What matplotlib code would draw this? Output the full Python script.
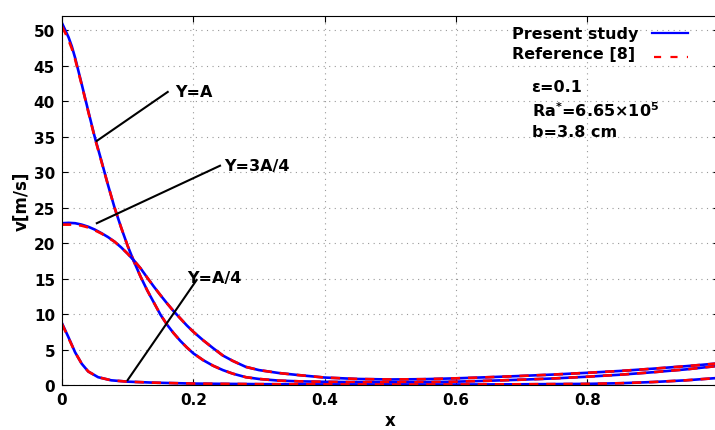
import numpy as np
import matplotlib
matplotlib.use('Agg')
import matplotlib.pyplot as plt

plt.rcParams['font.family'] = ['DejaVu Sans']
plt.rcParams['font.weight'] = 'bold'
plt.rcParams['axes.labelweight'] = 'bold'
plt.rcParams['mathtext.default'] = 'bf'

# Y = A
xa = [0, 0.005, 0.01, 0.015, 0.02, 0.03, 0.04, 0.05, 0.06, 0.07, 0.08, 0.09, 0.1, 0.11,
      0.12, 0.13, 0.14, 0.15, 0.16, 0.17, 0.18, 0.19, 0.2, 0.215, 0.23, 0.245, 0.26, 0.28,
      0.3, 0.33, 0.36, 0.4, 0.45, 0.5, 0.55, 0.6, 0.65, 0.7, 0.75, 0.8, 0.85, 0.9, 0.95, 1.0]
va_present = [51.0, 50.0, 49.0, 47.7, 46.1, 42.4, 38.6, 34.9, 31.6, 28.2, 25.0, 22.2, 19.6, 17.3,
              15.2, 13.3, 11.6, 9.9, 8.5, 7.3, 6.24, 5.3, 4.46, 3.5, 2.72, 2.1, 1.6, 1.1,
              0.85, 0.62, 0.52, 0.45, 0.4, 0.38, 0.4, 0.47, 0.6, 0.75, 0.93, 1.17, 1.45, 1.8, 2.2, 2.7]
va_ref = [50.5, 49.6, 48.6, 47.4, 45.9, 42.3, 38.5, 34.8, 31.5, 28.2, 25.0, 22.2, 19.6, 17.3,
          15.2, 13.3, 11.6, 9.9, 8.5, 7.3, 6.24, 5.3, 4.46, 3.5, 2.72, 2.1, 1.6, 1.1,
          0.85, 0.62, 0.52, 0.45, 0.4, 0.38, 0.4, 0.47, 0.6, 0.75, 0.93, 1.17, 1.45, 1.8, 2.2, 2.7]

# Y = 3A/4
xb = [0, 0.01, 0.02, 0.03, 0.04, 0.05, 0.06, 0.07, 0.08, 0.09, 0.1, 0.11, 0.12, 0.13, 0.14,
      0.15, 0.16, 0.17, 0.18, 0.19, 0.2, 0.215, 0.23, 0.245, 0.26, 0.28, 0.3, 0.33, 0.36, 0.4,
      0.45, 0.5, 0.55, 0.6, 0.65, 0.7, 0.75, 0.8, 0.85, 0.9, 0.95, 1.0]
vb_present = [22.8, 22.85, 22.8, 22.6, 22.3, 21.9, 21.4, 20.85, 20.2, 19.4, 18.5, 17.5, 16.4, 15.1, 13.85,
              12.65, 11.5, 10.4, 9.4, 8.4, 7.5, 6.3, 5.2, 4.15, 3.4, 2.55, 2.1, 1.69, 1.4, 1.05,
              0.85, 0.78, 0.82, 0.94, 1.1, 1.28, 1.48, 1.72, 1.98, 2.3, 2.65, 3.05]
vb_ref = [22.6, 22.6, 22.6, 22.45, 22.2, 21.8, 21.35, 20.8, 20.2, 19.4, 18.5, 17.5, 16.4, 15.1, 13.85,
          12.65, 11.5, 10.4, 9.4, 8.4, 7.5, 6.3, 5.2, 4.15, 3.4, 2.55, 2.1, 1.69, 1.4, 1.05,
          0.85, 0.78, 0.82, 0.94, 1.1, 1.28, 1.48, 1.72, 1.98, 2.3, 2.65, 3.05]

# Y = A/4
xc = [0, 0.01, 0.02, 0.03, 0.04, 0.055, 0.075, 0.1, 0.14, 0.2, 0.3, 0.4, 0.5, 0.6, 0.7,
      0.8, 0.85, 0.9, 0.95, 1.0]
vc_present = [8.7, 6.7, 4.6, 3.0, 1.9, 1.1, 0.66, 0.47, 0.33, 0.2, 0.12, 0.08, 0.06, 0.07, 0.1,
              0.16, 0.25, 0.42, 0.66, 1.0]
vc_ref = [8.6, 6.6, 4.6, 3.0, 1.9, 1.1, 0.66, 0.47, 0.33, 0.2, 0.12, 0.08, 0.06, 0.07, 0.1,
          0.16, 0.25, 0.42, 0.66, 1.0]

legend_labels = ['Present study', 'Reference [8]']

fig = plt.figure(figsize=(7.15, 4.31), dpi=100)
ax = fig.add_axes([62/715, 45/431, 656.7/715, 369/431])

blue = '#0000ff'
red = '#ff0000'
lw = 1.9
dash = (3.5, 3)

ax.plot(xa, va_present, color=blue, lw=lw)
ax.plot(xa, va_ref, color=red, lw=lw, dashes=dash)
ax.plot(xb, vb_present, color=blue, lw=lw)
ax.plot(xb, vb_ref, color=red, lw=lw, dashes=dash)
ax.plot(xc, vc_present, color=blue, lw=lw)
ax.plot(xc, vc_ref, color=red, lw=lw, dashes=dash)

# leader lines and curve labels
ax.plot([0.053, 0.161], [34.4, 41.3], color='k', lw=1.5)
ax.text(0.172, 41.3, 'Y=A', fontsize=11.5, va='center')
ax.plot([0.053, 0.2406], [22.8, 30.9], color='k', lw=1.5)
ax.text(0.247, 31.0, 'Y=3A/4', fontsize=11.5, va='center')
ax.plot([0.1, 0.205], [0.7, 14.8], color='k', lw=1.5)
ax.text(0.19, 15.2, 'Y=A/4', fontsize=11.5, va='center')

# legend, MATLAB style: text first, sample line after
ax.text(0.686, 0.953, legend_labels[0], transform=ax.transAxes, fontsize=11.5, va='center')
ax.text(0.686, 0.899, legend_labels[1], transform=ax.transAxes, fontsize=11.5, va='center')
ax.plot([0.899, 0.954], [0.953, 0.953], transform=ax.transAxes, color=blue, lw=1.6, clip_on=False)
ax.plot([0.901, 0.954], [0.888, 0.888], transform=ax.transAxes, color=red, lw=1.6,
        dashes=(3.2, 4.2), clip_on=False)

ax.text(0.715, 0.8076, 'ε=0.1', transform=ax.transAxes, fontsize=11.5, va='center')
ax.text(0.715, 0.745, r'Ra$^{*}$=6.65$\times$10$^{5}$', transform=ax.transAxes, fontsize=11.5, va='center')
ax.text(0.715, 0.686, 'b=3.8 cm', transform=ax.transAxes, fontsize=11.5, va='center')

ax.set_xlim(0, 1)
ax.set_ylim(0, 52)
ax.set_xticks([0, 0.2, 0.4, 0.6, 0.8, 1])
ax.set_xticklabels(['0', '0.2', '0.4', '0.6', '0.8', '1'])
ax.set_yticks(range(0, 51, 5))
ax.tick_params(direction='in', length=4, top=True, right=True, labelsize=11, pad=5)
ax.grid(True, color='#999999', linestyle=(0, (1, 4)), lw=0.8)
ax.set_xlabel('x', fontsize=12, labelpad=3)
ax.set_ylabel('v[m/s]', fontsize=12, labelpad=2)

fig.savefig('out.png', dpi=100)
